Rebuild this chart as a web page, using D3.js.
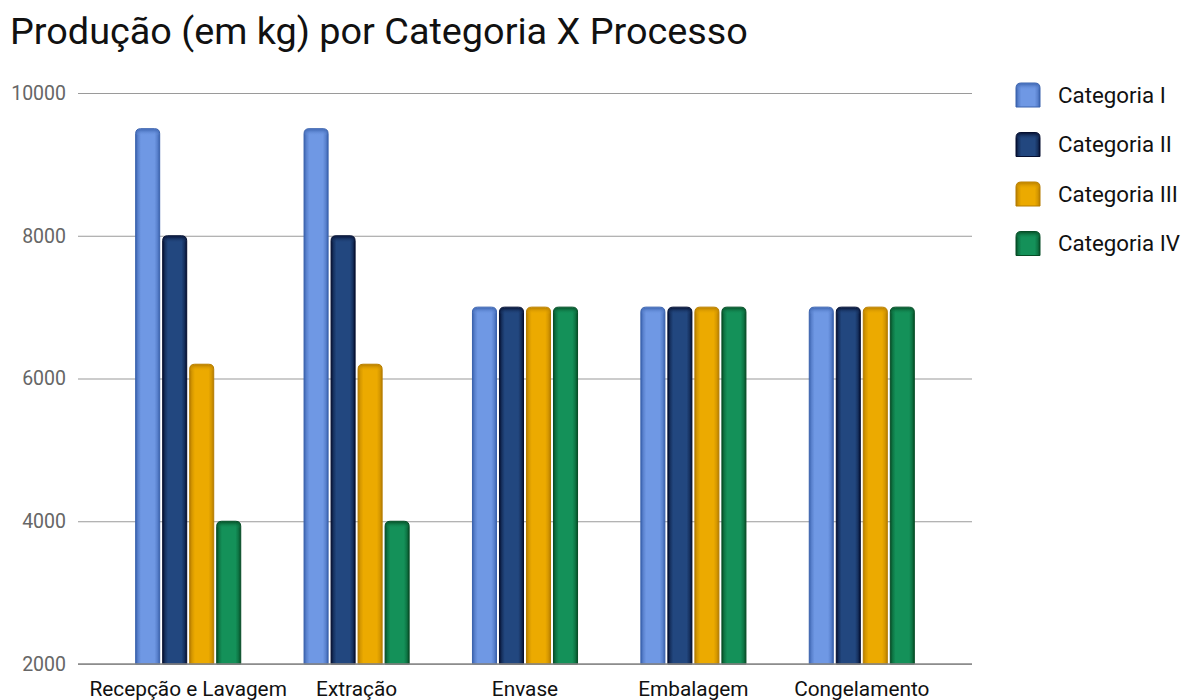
<!DOCTYPE html>
<html>
<head>
<meta charset="utf-8">
<script src="https://cdn.jsdelivr.net/npm/d3@7"></script>
<style>
  body { margin: 0; background: #fff; }
  svg { display: block; font-family: Roboto, "Noto Sans", sans-serif; }
</style>
</head>
<body>
<svg id="chart" width="1191" height="700"></svg>
<script>
// Production by process, one series per category
const processes = ["Recepção e Lavagem", "Extração", "Envase", "Embalagem", "Congelamento"];
const seriesNames = ["Categoria I", "Categoria II", "Categoria III", "Categoria IV"];
const categoriaI   = [9500, 9500, 7000, 7000, 7000];
const categoriaII  = [8000, 8000, 7000, 7000, 7000];
const categoriaIII = [6200, 6200, 7000, 7000, 7000];
const categoriaIV  = [4000, 4000, 7000, 7000, 7000];
const yTicks = [2000, 4000, 6000, 8000, 10000];

const seriesValues = [categoriaI, categoriaII, categoriaIII, categoriaIV];
const fills   = ["#6f98e4", "#22477f", "#ecaa00", "#149159"];
const edges   = ["#3a62ad", "#050f30", "#b67d00", "#064d26"];

const svg = d3.select("#chart");
const plot = { left: 78, right: 972, top: 93, bottom: 664 };

const x0 = d3.scaleBand().domain(processes).range([104, 946]).paddingInner(0.376).paddingOuter(0.188);
const x1 = d3.scaleBand().domain(seriesNames).range([0, x0.bandwidth()]).paddingInner(0.11);
const y = d3.scaleLinear().domain([2000, 10000]).range([plot.bottom, plot.top]);

// gradients that shade the sides and top of every bar
const defs = svg.append("defs");
seriesNames.forEach((s, i) => {
  const g = defs.append("linearGradient").attr("id", "g" + i).attr("x1", 0).attr("x2", 1).attr("y1", 0).attr("y2", 0);
  [[0, edges[i]], [0.1, d3.interpolateRgb(edges[i], fills[i])(0.6)], [0.22, fills[i]],
   [0.78, fills[i]], [0.9, d3.interpolateRgb(edges[i], fills[i])(0.6)], [1, edges[i]]]
    .forEach(([o, c]) => g.append("stop").attr("offset", o).attr("stop-color", c));
  const gv = defs.append("linearGradient").attr("id", "gv" + i).attr("x1", 0).attr("x2", 0).attr("y1", 0).attr("y2", 1);
  gv.append("stop").attr("offset", 0).attr("stop-color", edges[i]).attr("stop-opacity", 0.9);
  gv.append("stop").attr("offset", 1).attr("stop-color", fills[i]).attr("stop-opacity", 0);
});

// title
svg.append("text").attr("x", 10).attr("y", 44).attr("font-size", 37.8).attr("fill", "#111")
  .text("Produção (em kg) por Categoria X Processo");

// y axis with gridlines
const yAxis = d3.axisLeft(y).tickValues(yTicks).tickSize(-(plot.right - plot.left)).tickFormat(d3.format("d"));
const gy = svg.append("g").attr("transform", `translate(${plot.left},0)`).call(yAxis);
gy.select(".domain").remove();
gy.selectAll(".tick line").attr("stroke", "#9a9a9a").attr("stroke-width", 1.2);
gy.selectAll(".tick text").attr("x", -12).attr("font-size", 19.5).attr("fill", "#666").attr("font-family", "Roboto, sans-serif");

// bars with rounded tops
const r = 5;
const barPath = (x, w, yTop, yBot) =>
  `M${x},${yBot}V${yTop + r}Q${x},${yTop} ${x + r},${yTop}H${x + w - r}Q${x + w},${yTop} ${x + w},${yTop + r}V${yBot}Z`;

const groups = svg.append("g").selectAll("g").data(processes).join("g")
  .attr("transform", d => `translate(${x0(d)},0)`);
const bars = groups.selectAll("g").data((p, pi) => seriesNames.map((s, si) => ({ s, si, v: seriesValues[si][pi] })))
  .join("g");
bars.append("path")
  .attr("d", d => barPath(x1(d.s), x1.bandwidth(), y(d.v), y(2000)))
  .attr("fill", d => `url(#g${d.si})`)
  .attr("stroke", d => edges[d.si])
  .attr("stroke-width", 1);
bars.append("path")
  .attr("d", d => barPath(x1(d.s) + 0.5, x1.bandwidth() - 1, y(d.v) + 0.5, y(d.v) + 7))
  .attr("fill", d => `url(#gv${d.si})`);

// baseline drawn over the bars
svg.append("line").attr("x1", plot.left).attr("x2", plot.right).attr("y1", y(2000)).attr("y2", y(2000))
  .attr("stroke", "#888").attr("stroke-width", 1.5);

// x axis labels
const xAxis = d3.axisBottom(x0).tickSize(0);
const gx = svg.append("g").attr("transform", `translate(0,${y(2000)})`).call(xAxis);
gx.select(".domain").remove();
gx.selectAll(".tick text").attr("dy", 0).attr("y", 32).attr("font-size", 20.8).attr("fill", "#111").attr("font-family", "Roboto, sans-serif");

// legend
const legend = svg.append("g").selectAll("g").data(seriesNames).join("g")
  .attr("transform", (d, i) => `translate(1016,${83 + i * 49.5})`);
legend.append("path").attr("d", (d, i) => barPath(0, 24, 0, 24))
  .attr("fill", (d, i) => `url(#g${i})`).attr("stroke", (d, i) => edges[i]).attr("stroke-width", 1);
legend.append("path").attr("d", barPath(0.5, 23, 0.5, 7)).attr("fill", (d, i) => `url(#gv${i})`);
legend.append("text").attr("x", 42).attr("y", 12).attr("dy", "0.35em").attr("font-size", 22.3).attr("fill", "#111")
  .text(d => d);
</script>
</body>
</html>
